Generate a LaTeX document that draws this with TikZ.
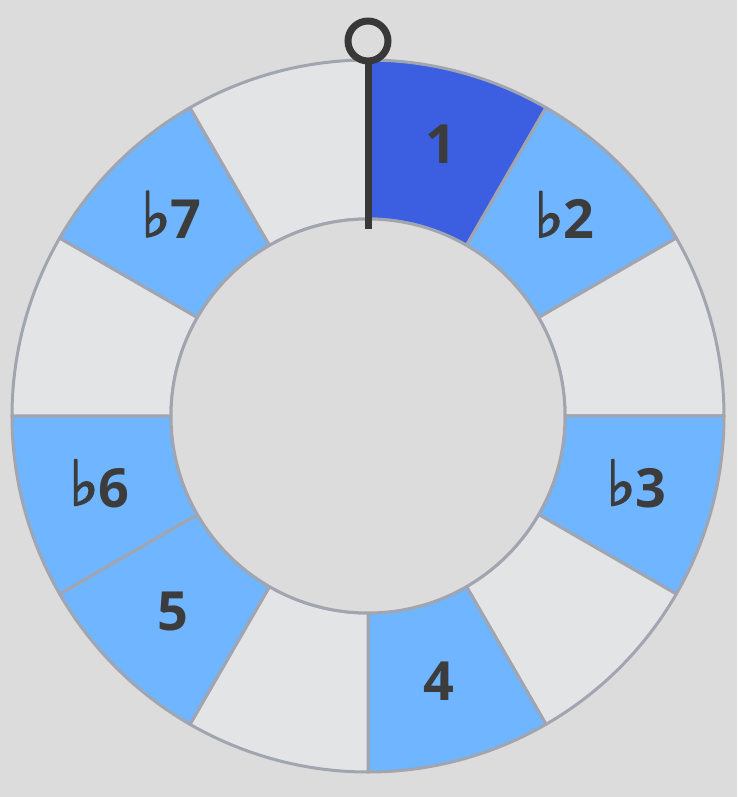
\documentclass[tikz,border=0pt]{standalone}
\usepackage{fontspec}
\setmainfont{Open Sans}
\newfontfamily\flatfont[FakeBold=3]{DejaVu Sans}
\definecolor{bg}{HTML}{DCDCDC}
\definecolor{segGrey}{HTML}{E3E4E6}
\definecolor{segLight}{HTML}{70B5FF}
\definecolor{segDark}{HTML}{3B5FE0}
\definecolor{segLine}{HTML}{A1A5B0}
\definecolor{txt}{HTML}{3C3C3C}
\definecolor{marker}{HTML}{383838}
\newcommand{\fl}{\smash{\flatfont\fontsize{62}{62}\selectfont\raisebox{2pt}{\char"266D}}}
\tikzset{
  seg/.style={draw=segLine, line width=3pt, line join=round},
  lbl/.style={text=txt, font=\fontsize{54}{54}\selectfont\bfseries, inner sep=0pt}
}
\begin{document}
\begin{tikzpicture}[x=1pt,y=1pt]
\fill[bg] (-368,-381) rectangle (369,416);
\useasboundingbox (-368,-381) rectangle (369,416);
\def\Ro{356}\def\Ri{197}
\foreach \k/\c in {0/segDark,1/segLight,2/segGrey,3/segLight,4/segGrey,5/segLight,6/segGrey,7/segLight,8/segLight,9/segGrey,10/segLight,11/segGrey}{
  \pgfmathsetmacro{\a}{90-30*\k}
  \pgfmathsetmacro{\b}{60-30*\k}
  \filldraw[seg, fill=\c] (\a:\Ri) -- (\a:\Ro) arc[start angle=\a, end angle=\b, radius=\Ro] -- (\b:\Ri) arc[start angle=\b, end angle=\a, radius=\Ri] -- cycle;
}
\filldraw[seg, fill=bg] (0,0) circle[radius=\Ri];
\node[lbl] (l1) at (75:281) {1};
\node[lbl] (l2) at (45:278) {\fl 2};
\node[lbl] (l3) at (-15:278) {\fl 3};
\node[lbl] (l4) at (-75:275) {4};
\node[lbl] (l5) at (-135:276) {5};
\node[lbl] (l6) at (-165:278) {\fl 6};
\node[lbl] (l7) at (135:278) {\fl 7};
\coordinate (mbot) at (0,187);
\node[circle, draw=marker, line width=7pt, minimum size=40pt, inner sep=0pt, fill=bg] (mring) at (0,375) {};
\draw[marker, line width=7pt] (mbot) -- (mring.south);
\end{tikzpicture}
\end{document}
